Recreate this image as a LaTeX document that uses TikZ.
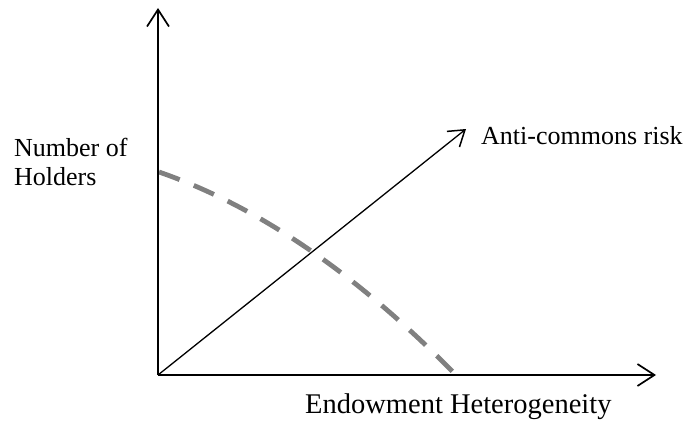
\documentclass[tikz,border=0pt]{standalone}
\usepackage{fontspec}
\setmainfont{Liberation Serif}
\usetikzlibrary{arrows.meta}
\begin{document}
\begin{tikzpicture}[x=1pt,y=-1pt,
  axis/.style={line width=1.7pt, -{Straight Barb[length=17pt,width=22pt,line width=1.7pt]}},
  diag/.style={line width=1.3pt, -{Straight Barb[length=15pt,width=20pt,line width=1.5pt]}},
  curve/.style={line width=4.8pt, draw={rgb,255:red,128;green,128;blue,128}, dash pattern=on 22pt off 15.3pt},
  lbl/.style={inner sep=0pt, anchor=base west, font=\fontsize{26}{30}\selectfont}]
\useasboundingbox (0,0) rectangle (690,420);
\coordinate (O) at (158,375);
\coordinate (ytop) at (158,8);
\coordinate (xend) at (656,375);
\coordinate (dend) at (466,129);
\coordinate (cs) at (159,172);
\coordinate (ce) at (453,372);
\draw[curve] (cs) .. controls (257.7,206.2) and (355.3,272.9) .. (ce);
\draw[axis] (O) -- (ytop);
\draw[axis] (O) -- (xend);
\draw[diag] (O) -- (dend);
\node[lbl] (risk) at (481,144) {Anti-commons risk};
\node[lbl, font=\fontsize{28.5}{32}\selectfont] (endow) at (305,413) {Endowment Heterogeneity};
\node[lbl] (num1) at (14,156) {Number of};
\node[lbl] (num2) at (14,185) {Holders};
\end{tikzpicture}
\end{document}
